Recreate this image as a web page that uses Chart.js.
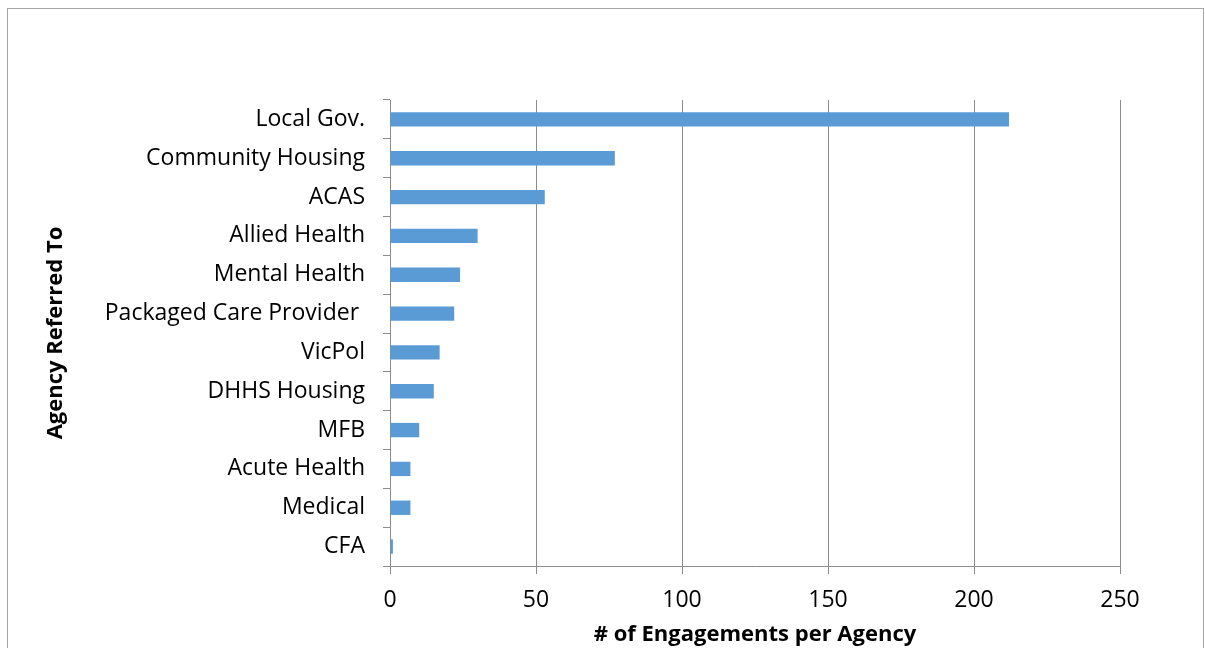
<!DOCTYPE html>
<html>
<head>
<meta charset="utf-8">
<script src="https://cdn.jsdelivr.net/npm/chart.js@4.4.1/dist/chart.umd.min.js"></script>
<style>
  html, body { margin: 0; padding: 0; background: #fff; overflow: hidden; }
  #wrap { position: relative; width: 1205px; height: 648px; }
  #frame {
    position: absolute; left: 7px; top: 8px; width: 1195px; height: 700px;
    border: 1px solid #a6a6a6; pointer-events: none;
  }
</style>
</head>
<body>
<div id="wrap">
  <canvas id="agencyChart" width="1205" height="648"></canvas>
  <div id="frame"></div>
</div>
<script>
// agencies that clients were referred to, largest first
const agencies = [
  'Local Gov.', 'Community Housing', 'ACAS', 'Allied Health', 'Mental Health',
  'Packaged Care Provider ', 'VicPol', 'DHHS Housing', 'MFB', 'Acute Health',
  'Medical', 'CFA'
];
const engagements = [212, 77, 53, 30, 24, 22, 17, 15, 10, 7, 7, 1];
const xTicks = [0, 50, 100, 150, 200, 250];

const font = "'Open Sans', Lato, sans-serif";
const axisGrey = '#8c8c8c';

document.addEventListener('DOMContentLoaded', function() {
    const ctx = document.getElementById('agencyChart').getContext('2d');
    new Chart(ctx, {
        type: 'bar',
        data: {
            labels: agencies,
            datasets: [{
                label: '# of Engagements',
                data: engagements,
                backgroundColor: '#5b9bd5',
                borderWidth: 0,
                barPercentage: 0.37,
                categoryPercentage: 1
            }]
        },
        options: {
            indexAxis: 'y',
            responsive: false,
            animation: false,
            layout: { padding: { top: 100, right: 85, left: 0, bottom: 0 } },
            plugins: {
                legend: { display: false },
                tooltip: { enabled: false }
            },
            scales: {
                x: {
                    min: 0,
                    max: 250,
                    afterBuildTicks: scale => {
                        scale.ticks = xTicks.map(v => ({ value: v }));
                    },
                    afterFit: scale => { scale.height = 82; },
                    grid: {
                        color: axisGrey,
                        lineWidth: 1,
                        tickLength: 8
                    },
                    border: { color: axisGrey, width: 1 },
                    ticks: {
                        color: '#000',
                        padding: 13,
                        font: { family: font, size: 23 }
                    },
                    title: {
                        display: true,
                        text: '# of Engagements per Agency',
                        color: '#000',
                        padding: { top: 0, bottom: 0 },
                        font: { family: font, size: 22, weight: 'bold' }
                    }
                },
                y: {
                    afterFit: scale => { scale.width = 390; },
                    grid: {
                        drawOnChartArea: false,
                        offset: true,
                        color: axisGrey,
                        tickLength: 7
                    },
                    border: { color: axisGrey, width: 1 },
                    ticks: {
                        color: '#000',
                        padding: 18,
                        autoSkip: false,
                        font: { family: font, size: 23 }
                    },
                    title: {
                        display: true,
                        text: 'Agency Referred To',
                        color: '#000',
                        padding: { top: 43, bottom: 0 },
                        font: { family: font, size: 22, weight: 'bold' }
                    }
                }
            }
        }
    });
});
</script>
</body>
</html>
